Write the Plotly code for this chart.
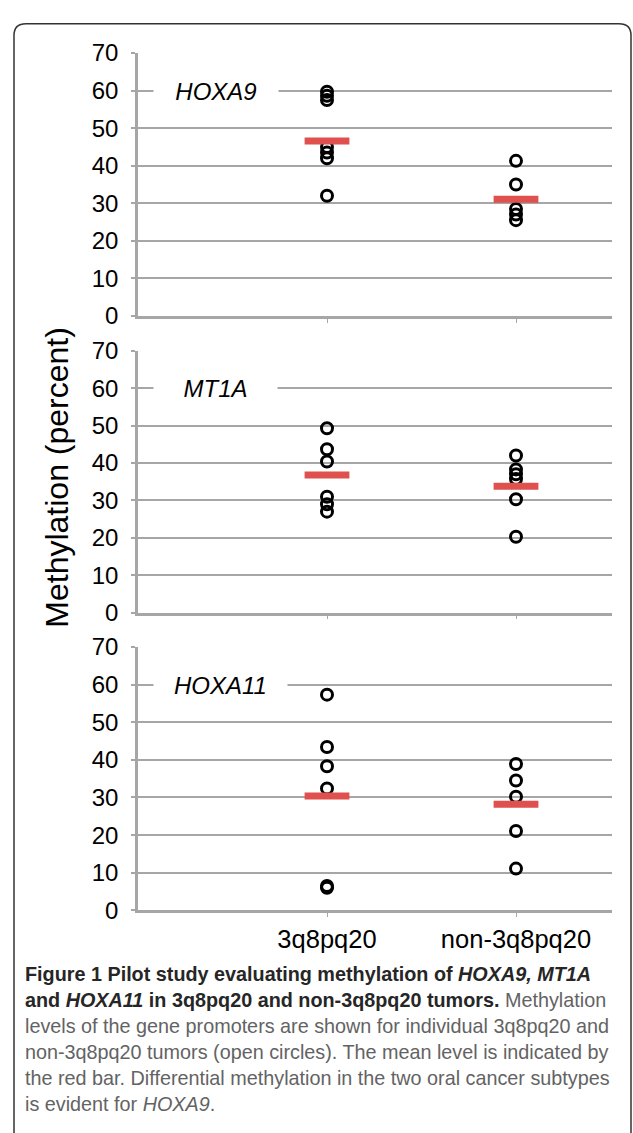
import plotly.graph_objects as go

W, H = 633, 1133

categories = ["3q8pq20", "non-3q8pq20"]
genes = ["HOXA9", "MT1A", "HOXA11"]

hoxa9_3q = [59.7, 58.6, 57.5, 45.0, 43.5, 42.0, 32.0]
hoxa9_non = [41.3, 35.0, 28.5, 27.0, 25.5]
mt1a_3q = [49.3, 43.7, 40.4, 31.0, 29.0, 27.0]
mt1a_non = [42.0, 38.3, 37.0, 35.7, 30.3, 20.3]
hoxa11_3q = [57.3, 43.4, 38.3, 32.4, 6.5, 6.0]
hoxa11_non = [38.9, 34.5, 30.2, 21.1, 11.1]

means_hoxa9 = [46.6, 31.1]
means_mt1a = [36.8, 33.8]
means_hoxa11 = [30.4, 28.2]

y_ticks = [0, 10, 20, 30, 40, 50, 60, 70]

panels = [
    (hoxa9_3q, hoxa9_non, means_hoxa9),
    (mt1a_3q, mt1a_non, means_mt1a),
    (hoxa11_3q, hoxa11_non, means_hoxa11),
]


def px(x):
    return x / W


def py(y):
    return 1 - y / H


# panel pixel extents (top=70, bottom=0)
panel_px = [(40, 309.3), (345, 613.3), (648.3, 918.3)]
x_left, x_right = 138, 612

fig = go.Figure()
GRID = "#a6a6a6"
FONT = "Liberation Sans, Arial, sans-serif"

for i, (v3q, vnon, means) in enumerate(panels):
    sfx = "" if i == 0 else str(i + 1)
    xs, ys = [], []
    for ci, vals in enumerate([v3q, vnon]):
        xs += [ci + 1] * len(vals)
        ys += vals
    fig.add_trace(go.Scatter(
        x=xs, y=ys, mode="markers", xaxis="x" + sfx, yaxis="y" + sfx,
        marker=dict(symbol="circle-open", size=11, color="black",
                    line=dict(width=3, color="black")),
        showlegend=False, hoverinfo="y"))
    fig.add_trace(go.Scatter(
        x=[categories.index(c) + 1 for c in categories], y=means,
        mode="markers", xaxis="x" + sfx, yaxis="y" + sfx,
        marker=dict(symbol="line-ew", size=32, color="#e0504f",
                    line=dict(width=7, color="#e0504f")),
        showlegend=False, hoverinfo="y"))

    top, bot = panel_px[i]
    last = (i == 2)
    fig.layout["xaxis" + sfx] = dict(
        domain=[px(x_left), px(x_right)], anchor="y" + sfx,
        range=[0, (x_right - x_left) / 189.0],
        tickvals=[1, 2], ticktext=categories if last else ["", ""],
        showticklabels=last, showgrid=False, zeroline=False,
        showline=True, linecolor=GRID, linewidth=2.5,
        ticks="outside", ticklen=4, tickcolor=GRID, tickwidth=1,
        tickfont=dict(family=FONT, size=25.5, color="black"),
        ticklabelstandoff=0, fixedrange=True)
    fig.layout["yaxis" + sfx] = dict(
        domain=[py(bot), py(top)], anchor="x" + sfx,
        range=[0, 70], tickvals=y_ticks,
        showgrid=True, gridcolor=GRID, gridwidth=2, zeroline=False,
        showline=True, linecolor=GRID, linewidth=2.5,
        ticks="outside", ticklen=4, tickcolor=GRID, tickwidth=2,
        tickfont=dict(family=FONT, size=24, color="black"),
        ticklabelstandoff=8, fixedrange=True)

annotations = []
label_widths = [124, 123, 133]
for i, g in enumerate(genes):
    sfx = "" if i == 0 else str(i + 1)
    annotations.append(dict(
        text="<i>%s</i>" % g, x=px(153), xref="paper", y=60, yref="y" + sfx,
        xanchor="left", yanchor="middle", showarrow=False,
        width=label_widths[i], height=30, align="center",
        bgcolor="white", borderpad=0,
        font=dict(family=FONT, size=24, color="black")))

annotations.append(dict(
    text="Methylation (percent)", textangle=-90, x=px(57), y=py(475),
    xref="paper", yref="paper", showarrow=False, xanchor="center",
    yanchor="middle", font=dict(family=FONT, size=32, color="black")))

CAP = "Liberation Sans, Arial, sans-serif"
GRAY = "#636363"
DARK = "#262626"
caption_lines = [
    "<b>Figure 1 Pilot study evaluating methylation of <i>HOXA9, MT1A</i></b>",
    "<b>and <i>HOXA11</i> in 3q8pq20 and non-3q8pq20 tumors.</b> "
    "<span style='color:%s'>Methylation</span>" % GRAY,
    "<span style='color:%s'>levels of the gene promoters are shown for individual 3q8pq20 and</span>" % GRAY,
    "<span style='color:%s'>non-3q8pq20 tumors (open circles). The mean level is indicated by</span>" % GRAY,
    "<span style='color:%s'>the red bar. Differential methylation in the two oral cancer subtypes</span>" % GRAY,
    "<span style='color:%s'>is evident for <i>HOXA9</i>.</span>" % GRAY,
]
cap_y = [983, 1010, 1037, 1063.5, 1090, 1117]
for line, yy in zip(caption_lines, cap_y):
    annotations.append(dict(
        text=line, x=px(23), y=py(yy), xref="paper", yref="paper",
        xanchor="left", yanchor="middle", showarrow=False, align="left",
        font=dict(family=CAP, size=19.8, color=DARK)))

# rounded frame (open at bottom)
r = 12
L, T, R, B = 14, 10, 631, 1150
path = ("M %f,%f L %f,%f Q %f,%f %f,%f L %f,%f Q %f,%f %f,%f L %f,%f" % (
    px(L), py(B), px(L), py(T + r), px(L), py(T), px(L + r), py(T),
    px(R - r), py(T), px(R), py(T), px(R), py(T + r), px(R), py(B)))
shapes = [dict(type="path", path=path, xref="paper", yref="paper",
               line=dict(color="#333333", width=1.5), layer="above")]

fig.update_layout(
    width=W, height=H, margin=dict(l=0, r=0, t=0, b=0),
    paper_bgcolor="white", plot_bgcolor="white",
    annotations=annotations, shapes=shapes, showlegend=False)

post = """
var gd = document.getElementById('{plot_id}');
document.documentElement.style.margin = '0';
document.documentElement.style.padding = '0';
document.documentElement.style.overflow = 'hidden';
document.documentElement.style.height = '1133px';
document.body.style.margin = '0';
document.body.style.padding = '0';
document.body.style.overflow = 'hidden';
document.body.style.height = '1133px';
gd.style.position = 'fixed';
gd.style.top = '0px';
gd.style.left = '0px';
"""

fig.write_html("out.html", config={"displayModeBar": False}, post_script=post)
